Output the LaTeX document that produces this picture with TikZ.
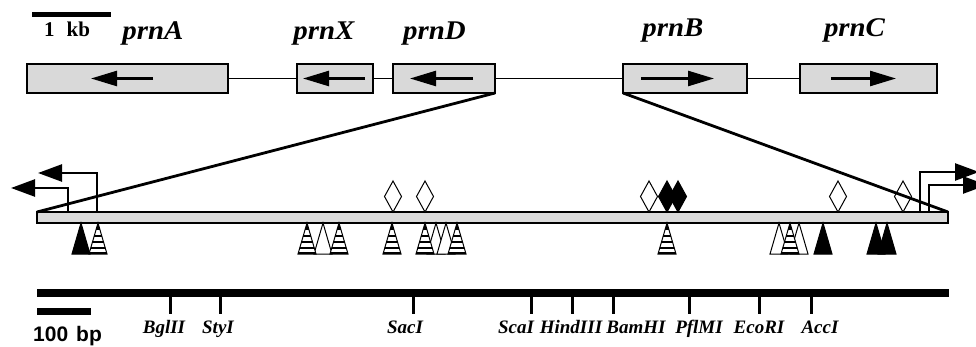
\documentclass[tikz,border=0pt]{standalone}
\usepackage{fontspec}
\setmainfont{Liberation Serif}
\newfontfamily\sansbold{Liberation Sans}
\usetikzlibrary{arrows.meta}
\tikzset{
  gene/.style={draw, line width=1.8pt, fill=gray!30, minimum height=29pt, inner sep=0pt, outer sep=0pt},
  conn/.style={line width=1.5pt},
  garrow/.style={line width=2.5pt, -{Triangle[length=26pt,width=15pt]}},
  tss/.style={line width=2.5pt, -{Triangle[length=24pt,width=17pt]}},
  zoomline/.style={line width=2.8pt},
  genelabel/.style={font=\fontsize{27}{27}\selectfont\bfseries\itshape, anchor=base, inner sep=0pt},
  relabel/.style={font=\fontsize{19}{19}\selectfont\bfseries\itshape, anchor=base, inner sep=0pt},
  sitetick/.style={line width=3pt},
  blktri/.pic={\filldraw[line width=1pt] (0,0) -- (-9,31) -- (9,31) -- cycle;},
  opntri/.pic={\filldraw[fill=white, line width=1pt] (0,0) -- (-9,31) -- (9,31) -- cycle;},
  strtri/.pic={
    \fill[white] (0,0) -- (-9,31) -- (9,31) -- cycle;
    \begin{scope}
      \clip (0,0) -- (-9,31) -- (9,31) -- cycle;
      \fill (-10,0) rectangle (10,7);
      \fill (-10,12) rectangle (10,14);
      \fill (-10,18) rectangle (10,20);
      \fill (-10,24) rectangle (10,26);
      \fill (-10,29) rectangle (10,31);
    \end{scope}
    \draw[line width=1pt] (0,0) -- (-9,31) -- (9,31) -- cycle;},
  opndia/.pic={\filldraw[fill=white, line width=1pt] (0,0) -- (-8.5,-15.5) -- (0,-31) -- (8.5,-15.5) -- cycle;},
  blkdia/.pic={\filldraw[line width=1pt] (0,0) -- (-8.5,-15.5) -- (0,-31) -- (8.5,-15.5) -- cycle;},
}
\begin{document}
\begin{tikzpicture}[x=1pt, y=-1pt]
\clip (0,0) rectangle (976,347);
\fill[white] (0,0) rectangle (976,347);

% scale bar 1 kb
\fill (32,12.5) rectangle (111,17.5);
\node[font=\fontsize{21}{21}\selectfont\bfseries, anchor=base west, inner sep=0pt] (kb) at (44,37) {1\hspace{12pt}kb};

% gene labels
\node[genelabel] (lA) at (153,40) {\scalebox{1.07}[1]{prnA}};
\node[genelabel] (lX) at (324,40) {\scalebox{1.07}[1]{prnX}};
\node[genelabel] (lD) at (434.5,40) {\scalebox{1.07}[1]{prnD}};
\node[genelabel] (lB) at (673,37) {\scalebox{1.07}[1]{prnB}};
\node[genelabel] (lC) at (854.5,37) {\scalebox{1.07}[1]{prnC}};

% gene boxes
\node[gene, minimum width=201pt] (A) at (127.5,78.5) {};
\node[gene, minimum width=76pt] (X) at (335,78.5) {};
\node[gene, minimum width=102pt] (D) at (444,78.5) {};
\node[gene, minimum width=124pt] (B) at (685,78.5) {};
\node[gene, minimum width=137pt] (C) at (868.5,78.5) {};
\draw[conn] (A.east) -- (X.west);
\draw[conn] (X.east) -- (D.west);
\draw[conn] (D.east) -- (B.west);
\draw[conn] (B.east) -- (C.west);

% arrows in genes
\draw[garrow] (153,78.5) -- (91,78.5);
\draw[garrow] (365,78.5) -- (303,78.5);
\draw[garrow] (473,78.5) -- (410,78.5);
\draw[garrow] (641,78.5) -- (714,78.5);
\draw[garrow] (831,78.5) -- (896,78.5);

% detail bar
\node[draw, line width=1.2pt, fill=gray!28, minimum width=911pt, minimum height=11pt, inner sep=0pt, outer sep=0pt] (bar) at (492.5,217.5) {};

% transcription starts
\draw[tss] (68,212) -- (68,188) -- (11,188);
\draw[tss] (97,212) -- (97,173) -- (38,173);
\draw[tss] (920,212) -- (920,172) -- (979,172);
\draw[tss] (929,212) -- (929,185) -- (987,185);

% diamonds above
\pic at (393,212) {opndia};
\pic at (425,212) {opndia};
\pic at (649,212) {opndia};
\pic at (667,212) {blkdia};
\pic at (678,212) {blkdia};
\pic at (838,212) {opndia};
\pic at (903,212) {opndia};

% triangles below
\pic at (81,223) {blktri};
\pic at (98,223) {strtri};
\pic at (323,223) {opntri};
\pic at (307,223) {strtri};
\pic at (339,223) {strtri};
\pic at (392,223) {strtri};
\pic at (436,223) {opntri};
\pic at (446,223) {opntri};
\pic at (425,223) {strtri};
\pic at (457,223) {strtri};
\pic at (667,223) {strtri};
\pic at (779,223) {opntri};
\pic at (799,223) {opntri};
\pic at (790,223) {strtri};
\pic at (823,223) {blktri};
\pic at (876,223) {blktri};
\pic at (887,223) {blktri};

% zoom lines
\draw[zoomline] (D.south east) -- (bar.north west);
\draw[zoomline] (B.south west) -- (bar.north east);

% restriction map
\node[fill, minimum width=912pt, minimum height=8pt, inner sep=0pt, outer sep=0pt] (rmap) at (493,293) {};
\fill (37,307.5) rectangle (91,314.5);
\node[font=\fontsize{21}{21}\selectfont\sansbold\bfseries, anchor=base west, inner sep=0pt] (bp) at (33,341) {100\hspace{8pt}bp};

\foreach \x/\lx/\name in {170/164/BglII, 220/218/StyI, 413/405/SacI, 531/516/ScaI, 572/571/HindIII, 613/636/BamHI, 689/699/PflMI, 759/759/EcoRI, 811/820/AccI}{
  \draw[sitetick] (\x,297) -- (\x,314);
  \node[relabel] (s\name) at (\lx,333) {\name};
}
\end{tikzpicture}
\end{document}
